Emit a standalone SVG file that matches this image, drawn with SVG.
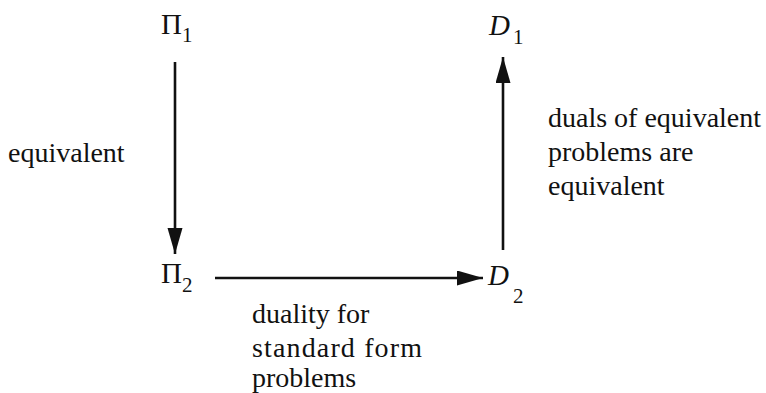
<svg xmlns="http://www.w3.org/2000/svg" width="766" height="393" viewBox="0 0 766 393">
<style>
.t{font-size:28px;fill:#111}
.m{font-size:29px;fill:#111}
.i{font-style:italic}
.s{font-size:21px;fill:#111}
.c{stroke:#111;stroke-width:2.6;fill:none}
</style>
<defs>
<marker id="ah" markerUnits="userSpaceOnUse" markerWidth="28" markerHeight="16" refX="26" refY="7.5" orient="auto">
<path d="M0,0 L26,7.5 L0,15 Z" fill="#111"/>
</marker>
</defs>
<rect width="766" height="393" fill="#fff"/>
<g id="connectors">
<line class="c" x1="175" y1="62" x2="175" y2="254" marker-end="url(#ah)"/>
<line class="c" x1="215" y1="278" x2="483" y2="278" marker-end="url(#ah)"/>
<line class="c" x1="503" y1="250" x2="503" y2="57" marker-end="url(#ah)"/>
</g>
<g id="pi1"><text class="m" font-family="Liberation Serif" x="161" y="34">Π</text><text class="s" font-family="Liberation Serif" x="182" y="42">1</text></g>
<g id="d1"><text class="m i" font-family="Liberation Serif" x="489" y="35">D</text><text class="s" font-family="Liberation Serif" x="513" y="44">1</text></g>
<g id="pi2"><text class="m" font-family="Liberation Serif" x="161" y="283">Π</text><text class="s" font-family="Liberation Serif" x="182" y="292">2</text></g>
<g id="d2"><text class="m i" font-family="Liberation Serif" x="488" y="285">D</text><text class="s" font-family="Liberation Serif" x="513" y="303">2</text></g>
<g id="labels">
<text class="t" font-family="Liberation Serif" x="8" y="162">equivalent</text>
<text class="t" font-family="Liberation Serif" x="548" y="127">duals of equivalent</text>
<text class="t" font-family="Liberation Serif" x="548" y="161">problems are</text>
<text class="t" font-family="Liberation Serif" x="548" y="195">equivalent</text>
<text class="t" font-family="Liberation Serif" x="252" y="323">duality for</text>
<text class="t" font-family="Liberation Serif" x="252" y="357" textLength="170" lengthAdjust="spacing">standard form</text>
<text class="t" font-family="Liberation Serif" x="252" y="387">problems</text>
</g>
</svg>
